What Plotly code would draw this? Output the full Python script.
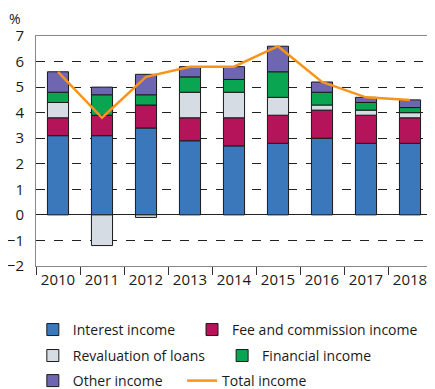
import plotly.graph_objects as go

years = ["2010", "2011", "2012", "2013", "2014", "2015", "2016", "2017", "2018"]
interest = [3.1, 3.1, 3.4, 2.9, 2.7, 2.8, 3.0, 2.8, 2.8]
fee = [0.7, 0.8, 0.9, 0.9, 1.1, 1.1, 1.1, 1.1, 1.0]
revaluation = [0.6, -1.2, -0.1, 1.0, 1.0, 0.7, 0.2, 0.2, 0.2]
financial = [0.4, 0.8, 0.4, 0.6, 0.5, 1.0, 0.5, 0.3, 0.2]
other = [0.8, 0.3, 0.8, 0.4, 0.5, 1.0, 0.4, 0.2, 0.3]
total = [5.6, 3.8, 5.4, 5.8, 5.8, 6.6, 5.2, 4.6, 4.5]

series = [
    ("Interest income", interest, "#3a77bb", "legend"),
    ("Fee and commission income", fee, "#b5135a", "legend2"),
    ("Revaluation of loans", revaluation, "#d5dce3", "legend3"),
    ("Financial income", financial, "#0aa550", "legend4"),
    ("Other income", other, "#6e66b0", "legend5"),
]

fig = go.Figure()
for name, vals, col, lg in series:
    fig.add_trace(go.Bar(x=years, y=vals, name=name, legend=lg,
                         marker=dict(color=col, line=dict(color="#1a1a1a", width=1))))
fig.add_trace(go.Scatter(x=years, y=total, name="Total income", mode="lines", legend="legend6",
                         line=dict(color="#f7941d", width=2.5)))

def lg(x, y):
    return dict(x=x, y=y, xanchor="left", yanchor="middle", orientation="h",
                font=dict(size=14), bgcolor="rgba(0,0,0,0)")

fig.update_layout(
    width=427, height=381,
    margin=dict(l=28, r=3, t=28, b=123, autoexpand=False),
    barmode="relative", bargap=0.52,
    plot_bgcolor="white", paper_bgcolor="white",
    font=dict(family="Open Sans", size=14, color="#1a1a1a"),
    showlegend=True,
    legend=lg(-0.008, -0.278),
    legend2=lg(0.394, -0.278),
    legend3=lg(-0.008, -0.391),
    legend4=lg(0.470, -0.391),
    legend5=lg(-0.008, -0.500),
    legend6=lg(0.369, -0.500),
    annotations=[dict(text="%", xref="paper", yref="paper", x=-0.072, y=1.078,
                      xanchor="left", yanchor="middle", showarrow=False,
                      font=dict(size=14))],
)
fig.update_xaxes(showline=True, linecolor="#888", mirror=True, ticks="outside",
                 tickson="boundaries", ticklen=8, tickcolor="#333",
                 tickfont=dict(size=15))
fig.update_yaxes(range=[-2, 7], dtick=1, showline=True, linecolor="#888", mirror=True,
                 showgrid=True, gridcolor="#222", griddash="dash", gridwidth=1,
                 zeroline=True, zerolinecolor="#222", zerolinewidth=1,
                 tickfont=dict(size=15), ticks="", ticklabelstandoff=8)

fig.write_html("out.html")
